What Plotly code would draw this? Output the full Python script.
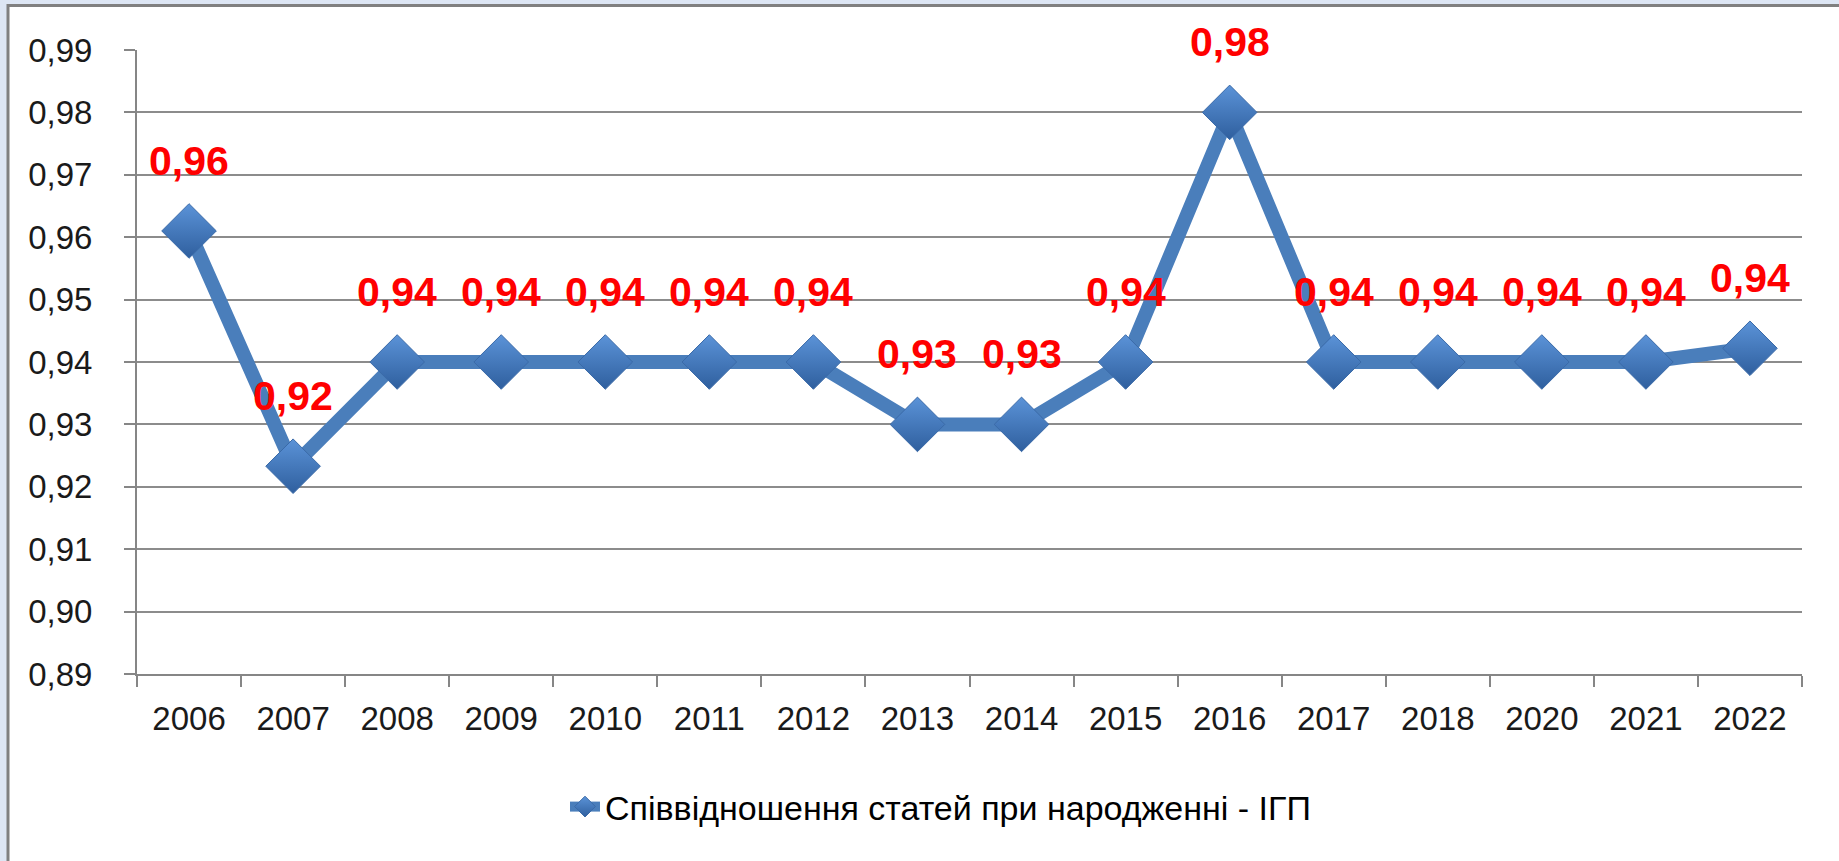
import plotly.graph_objects as go

years = ["2006", "2007", "2008", "2009", "2010", "2011", "2012", "2013",
         "2014", "2015", "2016", "2017", "2018", "2020", "2021", "2022"]
ratio = [0.961, 0.9233, 0.94, 0.94, 0.94, 0.94, 0.94, 0.93,
         0.93, 0.94, 0.98, 0.94, 0.94, 0.94, 0.94, 0.9422]
y_ticks = [0.89, 0.90, 0.91, 0.92, 0.93, 0.94, 0.95, 0.96, 0.97, 0.98, 0.99]
series_name = "Співвідношення статей при народженні - ІГП"

W, H = 1839, 861
L, R, T, B = 137, 1802, 50, 674
PW, PH = R - L, B - T

def px_x(px):
    return (px - L) / PW

def px_y(py):
    return (B - py) / PH

labels = [f"{v:.2f}".replace(".", ",") for v in ratio]
tick_text = [f"{v:.2f}".replace(".", ",") for v in y_ticks]

fig = go.Figure()
fig.add_trace(go.Scatter(
    x=years, y=ratio, mode="lines+markers", name=series_name,
    line=dict(color="#4a7ebb", width=14),
    marker=dict(symbol="diamond", size=42, color="#5b93d8",
                gradient=dict(type="vertical", color="#2f5f9e"),
                line=dict(color="#3a6aa8", width=1)),
))

for i, (y, t) in enumerate(zip(ratio, labels)):
    fig.add_annotation(x=i, y=y, text=t, showarrow=False, yshift=70,
                       yanchor="middle", xanchor="center",
                       font=dict(family="Liberation Sans", size=41, color="#ff0000",
                                 weight="bold"))

fig.add_shape(type="rect", xref="paper", yref="paper", layer="below",
              x0=px_x(8), x1=px_x(1900), y0=px_y(950), y1=px_y(5.5),
              fillcolor="white", line=dict(color="#808080", width=3))

fig.update_layout(
    width=W, height=H,
    margin=dict(l=L, r=W - R, t=T, b=H - B),
    paper_bgcolor="#dde6f4", plot_bgcolor="white",
    font=dict(family="Liberation Sans", color="#000000"),
    showlegend=True,
    legend=dict(orientation="h", x=px_x(565), y=px_y(807), xanchor="left", yanchor="middle",
                font=dict(family="Liberation Sans", size=34, color="#000"),
                bgcolor="rgba(0,0,0,0)"),
    xaxis=dict(type="category", tickson="boundaries", ticks="outside", ticklen=11,
               tickcolor="#868686", tickwidth=2, showline=True, linecolor="#868686", linewidth=2,
               showgrid=False, tickfont=dict(size=33, color="#1a1a1a"), automargin=False,
               range=[-0.5, len(years) - 0.5], fixedrange=True, ticklabelstandoff=14),
    yaxis=dict(range=[0.89, 0.99], tickvals=y_ticks, ticktext=tick_text,
               ticks="outside", ticklen=11, tickcolor="#868686", tickwidth=2,
               showline=True, linecolor="#868686", linewidth=2, automargin=False,
               showgrid=True, gridcolor="#8c8c8c", gridwidth=2, zeroline=False,
               tickfont=dict(size=33, color="#1a1a1a"), ticklabelstandoff=25),
)

fig.write_html("out.html", config={"displayModeBar": False},
               post_script="document.body.style.margin='0';document.body.style.overflow='hidden';")
